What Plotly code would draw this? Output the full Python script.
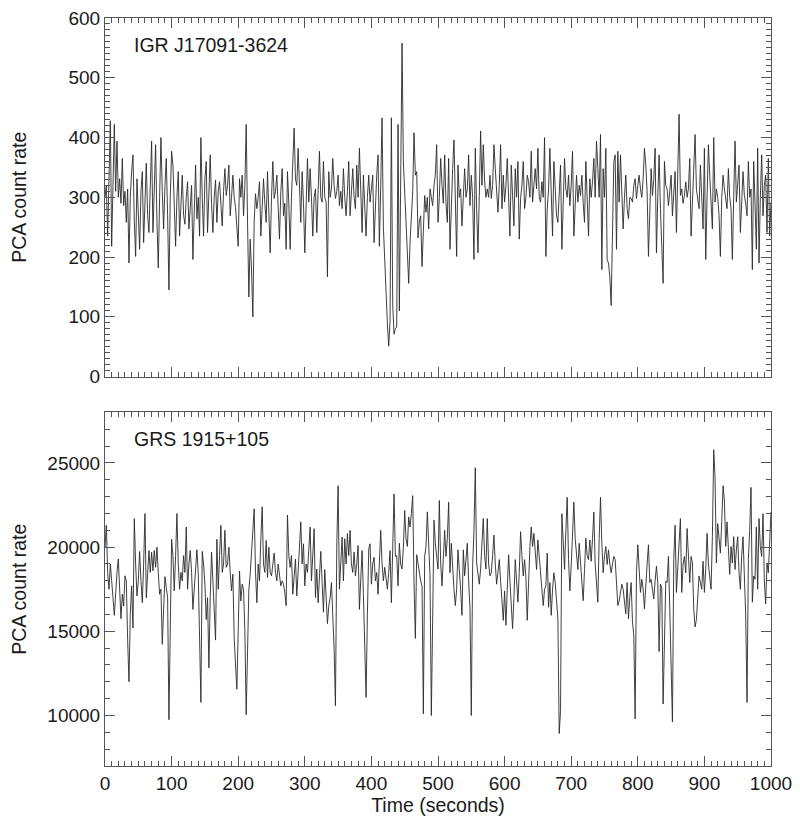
import plotly.graph_objects as go
from plotly.subplots import make_subplots

# light curves sampled every 2 s, 0-1000 s
time_s = list(range(0, 1001, 2))

igr_rate = [
    300, 320, 235, 330, 428, 218, 300, 422, 310, 394, 300, 331, 290, 365, 286, 310, 258, 314, 190, 300, 343, 371, 260, 201, 331,
    280, 213, 310, 343, 224, 300, 357, 270, 241, 320, 394, 241, 300, 388, 260, 182, 300, 400, 310, 247, 320, 365, 270, 145, 300,
    377, 354, 280, 218, 300, 343, 235, 300, 337, 270, 255, 300, 326, 247, 290, 320, 196, 290, 354, 264, 300, 235, 400, 300, 235,
    330, 360, 241, 300, 371, 290, 241, 300, 329, 258, 310, 326, 280, 252, 310, 348, 303, 320, 354, 269, 300, 337, 300, 283, 250,
    218, 331, 300, 337, 269, 320, 422, 260, 133, 230, 180, 100, 260, 306, 281, 300, 326, 235, 300, 331, 290, 258, 343, 280, 207,
    300, 360, 298, 310, 337, 280, 230, 310, 348, 269, 290, 213, 343, 290, 213, 300, 371, 416, 330, 320, 382, 300, 258, 343, 290,
    207, 300, 365, 292, 348, 300, 235, 300, 314, 241, 310, 377, 300, 292, 360, 300, 292, 167, 343, 300, 314, 365, 320, 298, 310,
    337, 286, 310, 281, 348, 300, 269, 310, 360, 269, 300, 348, 300, 281, 354, 300, 382, 290, 241, 337, 290, 235, 300, 337, 292,
    310, 337, 224, 300, 337, 371, 218, 320, 433, 250, 184, 120, 88, 51, 94, 433, 120, 71, 80, 83, 422, 110, 300, 558, 360,
    309, 264, 200, 156, 224, 280, 309, 408, 337, 343, 232, 260, 269, 184, 250, 303, 275, 300, 247, 314, 300, 286, 320, 337, 388,
    258, 300, 365, 320, 290, 371, 290, 258, 365, 213, 300, 348, 396, 286, 201, 354, 300, 314, 252, 300, 348, 300, 314, 371, 286,
    337, 300, 196, 382, 280, 207, 303, 411, 320, 388, 326, 300, 314, 300, 337, 298, 320, 388, 348, 298, 275, 320, 388, 281, 337,
    292, 320, 365, 280, 235, 354, 290, 252, 348, 300, 360, 230, 298, 320, 360, 281, 300, 337, 326, 300, 377, 292, 320, 348, 314,
    382, 300, 292, 326, 300, 400, 201, 280, 314, 382, 300, 235, 360, 300, 269, 258, 300, 354, 213, 300, 365, 314, 300, 337, 286,
    320, 377, 235, 300, 337, 292, 320, 303, 337, 290, 258, 360, 290, 235, 331, 300, 326, 365, 300, 394, 348, 300, 405, 179, 348,
    300, 382, 196, 190, 167, 119, 235, 360, 371, 213, 377, 292, 371, 320, 247, 300, 337, 281, 264, 300, 298, 292, 320, 331, 298,
    320, 337, 314, 300, 331, 382, 354, 309, 201, 300, 348, 303, 330, 382, 207, 300, 371, 281, 220, 156, 360, 320, 314, 286, 310,
    337, 269, 320, 343, 241, 320, 439, 303, 314, 290, 303, 326, 300, 314, 365, 235, 300, 337, 405, 314, 300, 281, 354, 300, 247,
    382, 196, 300, 388, 337, 290, 247, 400, 292, 314, 300, 269, 201, 300, 337, 314, 300, 281, 348, 300, 281, 196, 300, 394, 292,
    320, 354, 241, 300, 343, 303, 290, 269, 360, 300, 314, 179, 360, 290, 213, 382, 190, 300, 371, 269, 320, 337, 241, 365, 235,
    292,
]

grs_rate = [
    20000, 21300, 18500, 17500, 19000, 18200, 17000, 15950, 17500, 18500, 19300, 17000, 15750, 17200, 16500, 18300, 18000, 14500, 12000, 16000, 17700, 15200, 21700, 19000, 17100,
    18000, 19750, 18000, 16700, 19000, 22000, 17000, 18500, 19800, 18500, 19700, 18600, 19800, 18800, 20000, 18500, 17200, 17500, 14230, 16300, 18250, 17600, 17000, 9750, 15000,
    20470, 19500, 17400, 19500, 22000, 19000, 17500, 18500, 18000, 19500, 18500, 21200, 17500, 19000, 19800, 18500, 16300, 17500, 19000, 19850, 18500, 14000, 10780, 19750, 19000,
    17800, 15700, 17000, 12830, 17000, 19700, 18000, 16000, 14480, 20470, 17500, 19500, 21300, 18500, 19000, 21000, 18800, 19000, 20000, 18500, 17400, 18400, 14580, 13000, 11560,
    15000, 18580, 16800, 17800, 17500, 15000, 10040, 15000, 17500, 18400, 19600, 20500, 22280, 18500, 16700, 19000, 18000, 20500, 22400, 19000, 18500, 20400, 18200, 20000, 18500,
    18300, 19000, 19650, 18500, 18000, 19000, 18200, 17700, 18000, 17800, 17300, 16530, 21900, 19500, 18800, 19500, 17200, 18500, 19300, 17100, 18500, 20000, 21500, 19000, 20200,
    17700, 19000, 18500, 20000, 21200, 18000, 19500, 21100, 17000, 18700, 16700, 18500, 19750, 17900, 16140, 18670, 17000, 15460, 16500, 17000, 17900, 16000, 14000, 10580, 20000,
    23650, 17500, 19000, 20600, 18000, 20500, 19000, 20800, 19500, 21000, 19000, 18500, 19700, 18300, 19000, 20100, 16300, 18500, 19800, 17200, 14000, 11070, 16000, 19900, 20200,
    17800, 19000, 19400, 18000, 18500, 17200, 19000, 21000, 19000, 18000, 18800, 18200, 17500, 18500, 19800, 16700, 20000, 23160, 19450, 19500, 17700, 20230, 19000, 18700, 20000,
    22180, 20500, 20040, 21800, 21200, 22000, 23060, 17900, 14580, 19550, 19000, 18300, 18000, 17700, 10100, 19450, 20040, 22100, 20500, 18300, 10000, 18000, 21600, 20230, 19500,
    18700, 22770, 19060, 17700, 19500, 21000, 19450, 20500, 22670, 18480, 20230, 18480, 17500, 16530, 17500, 19840, 18870, 17500, 15950, 19840, 18300, 19450, 20230, 18000, 16340,
    10000, 18870, 21000, 24720, 19060, 18500, 17800, 18700, 20000, 21700, 19500, 18700, 21700, 19000, 18300, 18480, 19500, 20720, 19000, 17800, 18500, 19260, 18000, 16730, 15650,
    17400, 15360, 17500, 19550, 18000, 16730, 15160, 17000, 19260, 18000, 16730, 18500, 20920, 19500, 18290, 19260, 18190, 15650, 18000, 20040, 21200, 20040, 20820, 19500, 18670,
    20430, 19500, 18670, 17310, 16530, 17500, 17700, 19650, 16430, 17900, 15950, 17500, 18480, 17900, 16500, 15750, 8930, 10290, 21990, 19840, 18670, 21000, 22960, 19260, 17400,
    18870, 20500, 22670, 20500, 19650, 18670, 20230, 19000, 17900, 16820, 18670, 20530, 19500, 19260, 20430, 19160, 20500, 22090, 19000, 17900, 16730, 20500, 22960, 20230, 18480,
    19500, 20040, 18970, 19840, 19000, 18480, 19000, 19450, 19260, 17500, 16530, 16800, 17310, 17800, 17500, 16920, 16040, 17900, 15750, 17000, 17900, 15560, 14780, 9800, 18480,
    20140, 19000, 17310, 18090, 17500, 16340, 17900, 19000, 20140, 17900, 18090, 17500, 16920, 18000, 18870, 17900, 13800, 17800, 17600, 10680, 15000, 17990, 17900, 19450, 16340,
    12500, 9610, 19260, 21300, 17310, 19000, 20230, 21700, 17310, 19000, 19450, 18480, 21110, 19500, 17900, 19450, 19060, 16340, 15260, 15700, 17400, 18290, 17900, 17500, 19160,
    17310, 18670, 20820, 19000, 18290, 17500, 20620, 25790, 24130, 19060, 21400, 20620, 19650, 21500, 23650, 22770, 20040, 21500, 20230, 18380, 20040, 19060, 20620, 18670, 19840,
    20620, 18480, 17500, 19500, 20620, 18290, 15950, 10780, 19260, 21000, 23550, 16730, 18290, 18090, 21200, 17500, 21700, 20040, 19450, 21990, 18000, 16630, 19060, 18480, 20820,
    22090,
]

source_names = ["IGR J17091-3624", "GRS 1915+105"]

FONT = "Liberation Sans, Arial, Helvetica, sans-serif"
AXIS_COL = "#555555"
TXT = dict(family=FONT, size=19.5, color="#1a1a1a")
TICK_TXT = dict(family=FONT, size=19, color="#1a1a1a")

fig = make_subplots(rows=2, cols=1)

fig.add_trace(go.Scatter(x=time_s, y=igr_rate, mode="lines",
                         line=dict(color="#2a2a2a", width=0.9), showlegend=False), row=1, col=1)
fig.add_trace(go.Scatter(x=time_s, y=grs_rate, mode="lines",
                         line=dict(color="#2a2a2a", width=0.9), showlegend=False), row=2, col=1)

common_axis = dict(
    showgrid=False, zeroline=False, showline=True, linecolor=AXIS_COL, linewidth=1,
    mirror="allticks", ticks="inside", ticklen=10, tickwidth=1, tickcolor=AXIS_COL,
    tickfont=TICK_TXT, automargin=False, ticklabeloverflow="allow",
)

fig.update_xaxes(range=[0, 1000], dtick=100, tick0=0,
                 minor=dict(ticks="inside", dtick=10, ticklen=5, tickcolor=AXIS_COL),
                 **common_axis)
fig.update_xaxes(showticklabels=False, domain=[0, 1], row=1, col=1)
fig.update_xaxes(domain=[0, 1], row=2, col=1,
                 title=dict(text="Time (seconds)", font=TXT, standoff=0))

fig.update_yaxes(tickformat="d", **common_axis)
fig.update_yaxes(range=[0, 600], dtick=100, domain=[0.5206, 1],
                 minor=dict(ticks="inside", dtick=10, ticklen=5, tickcolor=AXIS_COL),
                 title=dict(text="PCA count rate", font=TXT, standoff=45),
                 row=1, col=1)
fig.update_yaxes(range=[7000, 28000], dtick=5000, tick0=0, domain=[0, 0.4726],
                 minor=dict(ticks="inside", dtick=1000, ticklen=5, tickcolor=AXIS_COL),
                 title=dict(text="PCA count rate", font=TXT, standoff=23),
                 row=2, col=1)

for name, xref, yref in zip(source_names, ["x domain", "x2 domain"], ["y domain", "y2 domain"]):
    fig.add_annotation(text=name, x=0.04, y=0.925, xref=xref, yref=yref,
                       xanchor="left", yanchor="middle", showarrow=False, font=TXT)

# page body adds an 8 px margin, so the figure is sized to fit inside it
fig.update_layout(
    width=792, height=811,
    margin=dict(l=97, r=29, t=10, b=53),
    paper_bgcolor="white", plot_bgcolor="white",
)

fig.write_html("out.html")
